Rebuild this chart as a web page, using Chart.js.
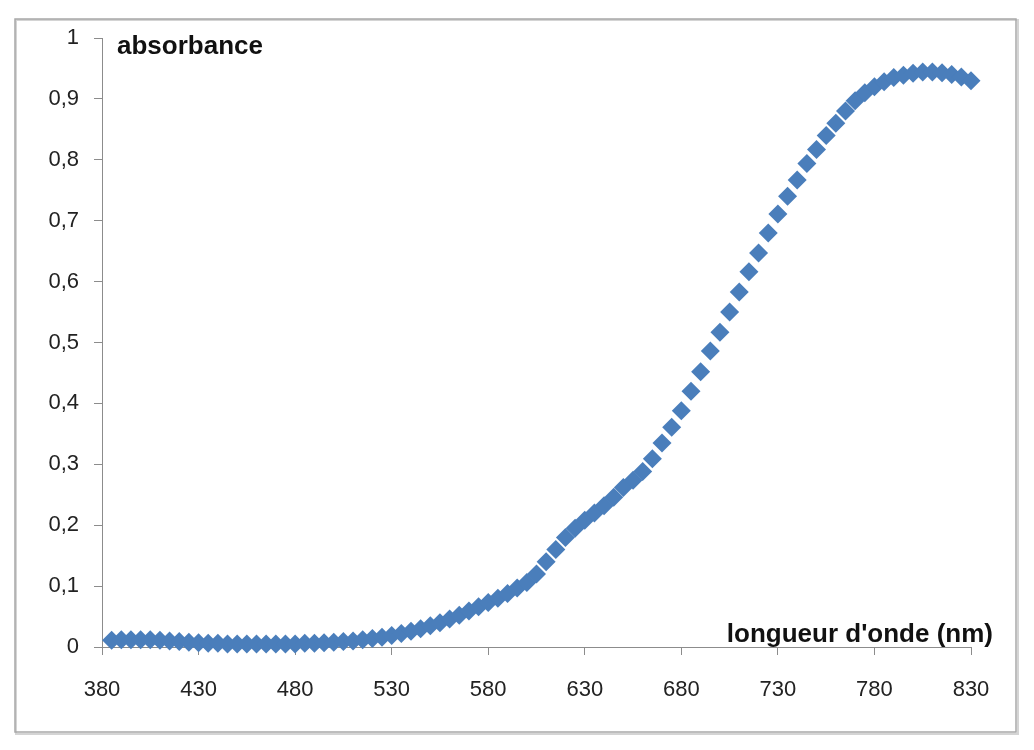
<!DOCTYPE html>
<html>
<head>
<meta charset="utf-8">
<script src="https://cdn.jsdelivr.net/npm/chart.js@4/dist/chart.umd.min.js"></script>
<style>
    html, body { margin: 0; padding: 0; background: #fff; }
    .chart-box { width: 1034px; height: 750px; position: relative; }
</style>
</head>
<body>
<div class="chart-box"><canvas id="spectrumChart"></canvas></div>
<script>
const wavelengths = [
    385, 390, 395, 400, 405, 410, 415, 420, 425, 430,
    435, 440, 445, 450, 455, 460, 465, 470, 475, 480,
    485, 490, 495, 500, 505, 510, 515, 520, 525, 530,
    535, 540, 545, 550, 555, 560, 565, 570, 575, 580,
    585, 590, 595, 600, 605, 610, 615, 620, 625, 630,
    635, 640, 645, 650, 655, 660, 665, 670, 675, 680,
    685, 690, 695, 700, 705, 710, 715, 720, 725, 730,
    735, 740, 745, 750, 755, 760, 765, 770, 775, 780,
    785, 790, 795, 800, 805, 810, 815, 820, 825, 830
];
const absorbance = [
    0.011, 0.012, 0.012, 0.012, 0.012, 0.011, 0.010, 0.009, 0.008, 0.007,
    0.006, 0.006, 0.005, 0.005, 0.005, 0.005, 0.005, 0.005, 0.005, 0.005,
    0.006, 0.006, 0.007, 0.008, 0.009, 0.010, 0.012, 0.014, 0.016, 0.019,
    0.022, 0.026, 0.030, 0.035, 0.040, 0.046, 0.052, 0.059, 0.066, 0.073,
    0.080, 0.088, 0.097, 0.106, 0.120, 0.140, 0.160, 0.180, 0.195, 0.208,
    0.220, 0.232, 0.246, 0.262, 0.274, 0.288, 0.309, 0.335, 0.361, 0.388,
    0.420, 0.452, 0.486, 0.517, 0.550, 0.583, 0.616, 0.647, 0.680, 0.711,
    0.740, 0.767, 0.794, 0.817, 0.840, 0.860, 0.880, 0.897, 0.910, 0.920,
    0.928, 0.935, 0.939, 0.942, 0.944, 0.944, 0.943, 0.940, 0.936, 0.930
];
const xTicks = [380, 430, 480, 530, 580, 630, 680, 730, 780, 830];
const yTicks = [0, 0.1, 0.2, 0.3, 0.4, 0.5, 0.6, 0.7, 0.8, 0.9, 1];
const yLabel = 'absorbance';
const xLabel = "longueur d'onde (nm)";

const points = wavelengths.map((w, i) => ({ x: w, y: absorbance[i] }));

// Frame around the whole chart + the two axis captions inside the plot
const framePlugin = {
    id: 'frame',
    beforeDraw(chart) {
        const ctx = chart.ctx;
        ctx.save();
        ctx.fillStyle = '#fff';
        ctx.fillRect(0, 0, chart.width, chart.height);
        ctx.strokeStyle = '#d4d4d4';
        ctx.lineWidth = 2;
        ctx.strokeRect(16, 20, 1002, 714);
        ctx.strokeStyle = '#a8a8a8';
        ctx.lineWidth = 1.5;
        ctx.strokeRect(15, 19, 1001, 713);
        ctx.restore();
    },
    afterDraw(chart) {
        const ctx = chart.ctx;
        const area = chart.chartArea;
        ctx.save();
        ctx.fillStyle = '#111';
        ctx.textBaseline = 'alphabetic';
        ctx.font = 'bold 26px "Liberation Sans", Arial, sans-serif';
        ctx.textAlign = 'left';
        ctx.fillText(yLabel, area.left + 15, area.top + 16);
        ctx.textAlign = 'right';
        ctx.fillText(xLabel, area.right + 22, area.bottom - 5);
        ctx.restore();
    }
};

new Chart(document.getElementById('spectrumChart'), {
    type: 'scatter',
    data: {
        datasets: [{
            label: yLabel,
            data: points,
            pointStyle: 'rectRot',
            pointRadius: 9.5,
            pointHoverRadius: 9.5,
            backgroundColor: '#4A7EBB',
            borderColor: '#4A7EBB',
            borderWidth: 0,
            clip: false
        }]
    },
    options: {
        responsive: true,
        maintainAspectRatio: false,
        animation: false,
        layout: { padding: { left: 0, top: 38, right: 63, bottom: 0 } },
        plugins: {
            legend: { display: false },
            tooltip: { enabled: false }
        },
        scales: {
            x: {
                type: 'linear',
                min: xTicks[0],
                max: xTicks[xTicks.length - 1],
                afterFit: (scale) => { scale.height = 103; },
                afterBuildTicks: (scale) => { scale.ticks = xTicks.map(v => ({ value: v })); },
                grid: {
                    display: true,
                    drawOnChartArea: false,
                    drawTicks: true,
                    tickLength: 8,
                    color: '#8c8c8c'
                },
                border: { display: true, color: '#8c8c8c', width: 1 },
                ticks: {
                    autoSkip: false,
                    maxRotation: 0,
                    padding: 22,
                    color: '#222',
                    font: { family: '"Liberation Sans", Arial, sans-serif', size: 22 }
                }
            },
            y: {
                min: yTicks[0],
                max: yTicks[yTicks.length - 1],
                afterFit: (scale) => { scale.width = 102; },
                afterBuildTicks: (scale) => { scale.ticks = yTicks.map(v => ({ value: v })); },
                grid: {
                    display: true,
                    drawOnChartArea: false,
                    drawTicks: true,
                    tickLength: 8,
                    color: '#8c8c8c'
                },
                border: { display: true, color: '#8c8c8c', width: 1 },
                ticks: {
                    padding: 15,
                    color: '#222',
                    font: { family: '"Liberation Sans", Arial, sans-serif', size: 22 },
                    callback: (v) => String(Math.round(v * 10) / 10).replace('.', ',')
                }
            }
        }
    },
    plugins: [framePlugin]
});
</script>
</body>
</html>
